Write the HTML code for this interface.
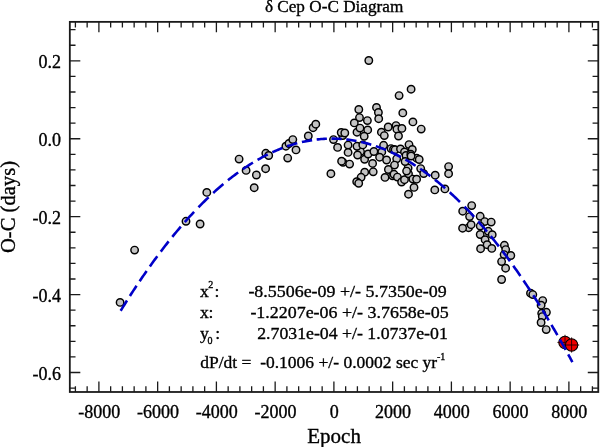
<!DOCTYPE html>
<html><head><meta charset="utf-8"><style>
html,body{margin:0;padding:0;background:#fff;width:600px;height:447px;overflow:hidden}
svg{display:block;will-change:transform}
</style></head><body>
<svg width="600" height="447" viewBox="0 0 600 447"><style>text{stroke:#000;stroke-width:0.35px}</style><g fill="#c4c4c4" stroke="#000" stroke-width="1.45"><circle cx="120.1" cy="302.4" r="3.72"/><circle cx="134.6" cy="250.1" r="3.72"/><circle cx="186.0" cy="221.3" r="3.72"/><circle cx="200.1" cy="224.0" r="3.72"/><circle cx="206.8" cy="192.4" r="3.72"/><circle cx="239.1" cy="159.1" r="3.72"/><circle cx="246.1" cy="170.4" r="3.72"/><circle cx="256.4" cy="175.0" r="3.72"/><circle cx="254.2" cy="187.7" r="3.72"/><circle cx="265.6" cy="168.7" r="3.72"/><circle cx="265.8" cy="153.3" r="3.72"/><circle cx="268.7" cy="155.5" r="3.72"/><circle cx="285.9" cy="146.2" r="3.72"/><circle cx="289.0" cy="143.5" r="3.72"/><circle cx="292.8" cy="139.6" r="3.72"/><circle cx="296.0" cy="149.9" r="3.72"/><circle cx="287.7" cy="158.1" r="3.72"/><circle cx="308.3" cy="136.0" r="3.72"/><circle cx="313.1" cy="127.7" r="3.72"/><circle cx="315.8" cy="124.2" r="3.72"/><circle cx="330.9" cy="173.7" r="3.72"/><circle cx="333.5" cy="139.6" r="3.72"/><circle cx="337.6" cy="147.4" r="3.72"/><circle cx="342.7" cy="135.5" r="3.72"/><circle cx="341.2" cy="132.5" r="3.72"/><circle cx="344.8" cy="133.0" r="3.72"/><circle cx="343.0" cy="162.3" r="3.72"/><circle cx="341.6" cy="161.2" r="3.72"/><circle cx="349.6" cy="164.1" r="3.72"/><circle cx="348.1" cy="145.1" r="3.72"/><circle cx="348.1" cy="152.4" r="3.72"/><circle cx="358.8" cy="109.5" r="3.72"/><circle cx="359.5" cy="117.6" r="3.72"/><circle cx="354.3" cy="122.9" r="3.72"/><circle cx="367.4" cy="120.6" r="3.72"/><circle cx="357.0" cy="132.2" r="3.72"/><circle cx="360.0" cy="128.1" r="3.72"/><circle cx="367.7" cy="129.9" r="3.72"/><circle cx="364.2" cy="136.3" r="3.72"/><circle cx="368.8" cy="60.5" r="3.72"/><circle cx="411.1" cy="89.2" r="3.72"/><circle cx="399.1" cy="95.6" r="3.72"/><circle cx="376.5" cy="107.4" r="3.72"/><circle cx="378.4" cy="112.5" r="3.72"/><circle cx="378.7" cy="118.7" r="3.72"/><circle cx="381.4" cy="132.2" r="3.72"/><circle cx="384.3" cy="135.6" r="3.72"/><circle cx="388.2" cy="127.0" r="3.72"/><circle cx="396.0" cy="125.6" r="3.72"/><circle cx="396.9" cy="129.2" r="3.72"/><circle cx="401.9" cy="128.4" r="3.72"/><circle cx="398.5" cy="136.0" r="3.72"/><circle cx="402.8" cy="112.9" r="3.72"/><circle cx="412.9" cy="121.9" r="3.72"/><circle cx="421.2" cy="129.1" r="3.72"/><circle cx="360.5" cy="151.6" r="3.72"/><circle cx="357.0" cy="146.3" r="3.72"/><circle cx="362.8" cy="144.9" r="3.72"/><circle cx="357.6" cy="155.0" r="3.72"/><circle cx="364.6" cy="159.3" r="3.72"/><circle cx="368.1" cy="154.0" r="3.72"/><circle cx="373.9" cy="151.5" r="3.72"/><circle cx="372.6" cy="163.4" r="3.72"/><circle cx="364.7" cy="172.2" r="3.72"/><circle cx="373.2" cy="171.8" r="3.72"/><circle cx="361.1" cy="177.3" r="3.72"/><circle cx="356.7" cy="181.7" r="3.72"/><circle cx="358.7" cy="183.3" r="3.72"/><circle cx="383.6" cy="145.3" r="3.72"/><circle cx="381.8" cy="151.9" r="3.72"/><circle cx="379.6" cy="157.2" r="3.72"/><circle cx="386.6" cy="160.0" r="3.72"/><circle cx="388.4" cy="169.5" r="3.72"/><circle cx="385.0" cy="177.4" r="3.72"/><circle cx="391.0" cy="148.6" r="3.72"/><circle cx="393.5" cy="149.5" r="3.72"/><circle cx="395.1" cy="149.8" r="3.72"/><circle cx="400.5" cy="148.9" r="3.72"/><circle cx="404.5" cy="151.9" r="3.72"/><circle cx="409.0" cy="144.6" r="3.72"/><circle cx="412.3" cy="149.5" r="3.72"/><circle cx="406.0" cy="155.5" r="3.72"/><circle cx="410.8" cy="154.3" r="3.72"/><circle cx="416.7" cy="158.2" r="3.72"/><circle cx="396.7" cy="158.8" r="3.72"/><circle cx="394.5" cy="165.1" r="3.72"/><circle cx="392.6" cy="175.8" r="3.72"/><circle cx="394.0" cy="174.3" r="3.72"/><circle cx="397.4" cy="177.1" r="3.72"/><circle cx="401.6" cy="182.0" r="3.72"/><circle cx="404.5" cy="179.7" r="3.72"/><circle cx="408.1" cy="168.1" r="3.72"/><circle cx="408.5" cy="173.8" r="3.72"/><circle cx="406.6" cy="171.1" r="3.72"/><circle cx="405.1" cy="161.5" r="3.72"/><circle cx="411.1" cy="156.0" r="3.72"/><circle cx="419.2" cy="159.5" r="3.72"/><circle cx="420.7" cy="168.6" r="3.72"/><circle cx="423.7" cy="173.6" r="3.72"/><circle cx="412.9" cy="179.1" r="3.72"/><circle cx="416.6" cy="179.2" r="3.72"/><circle cx="414.0" cy="187.4" r="3.72"/><circle cx="408.5" cy="194.2" r="3.72"/><circle cx="435.2" cy="175.2" r="3.72"/><circle cx="434.8" cy="189.9" r="3.72"/><circle cx="444.9" cy="188.9" r="3.72"/><circle cx="448.6" cy="166.6" r="3.72"/><circle cx="448.6" cy="173.7" r="3.72"/><circle cx="471.7" cy="205.6" r="3.72"/><circle cx="462.7" cy="211.2" r="3.72"/><circle cx="469.6" cy="216.6" r="3.72"/><circle cx="468.6" cy="227.7" r="3.72"/><circle cx="471.1" cy="224.7" r="3.72"/><circle cx="462.6" cy="228.2" r="3.72"/><circle cx="480.2" cy="216.3" r="3.72"/><circle cx="484.7" cy="221.6" r="3.72"/><circle cx="491.2" cy="222.1" r="3.72"/><circle cx="480.2" cy="226.1" r="3.72"/><circle cx="488.3" cy="231.3" r="3.72"/><circle cx="480.2" cy="234.5" r="3.72"/><circle cx="492.2" cy="234.7" r="3.72"/><circle cx="485.1" cy="239.7" r="3.72"/><circle cx="487.1" cy="244.7" r="3.72"/><circle cx="480.6" cy="248.7" r="3.72"/><circle cx="491.8" cy="248.4" r="3.72"/><circle cx="504.4" cy="245.3" r="3.72"/><circle cx="505.7" cy="249.6" r="3.72"/><circle cx="504.1" cy="254.6" r="3.72"/><circle cx="510.8" cy="255.5" r="3.72"/><circle cx="501.6" cy="261.6" r="3.72"/><circle cx="505.6" cy="268.2" r="3.72"/><circle cx="501.6" cy="279.5" r="3.72"/><circle cx="530.5" cy="293.2" r="3.72"/><circle cx="532.8" cy="294.6" r="3.72"/><circle cx="542.7" cy="300.6" r="3.72"/><circle cx="541.1" cy="305.2" r="3.72"/><circle cx="546.4" cy="312.3" r="3.72"/><circle cx="541.7" cy="313.3" r="3.72"/><circle cx="542.3" cy="316.6" r="3.72"/><circle cx="541.1" cy="322.5" r="3.72"/><circle cx="546.2" cy="329.6" r="3.72"/></g><g><circle cx="565.0" cy="342.4" r="6.2" fill="#f00000" stroke="#000" stroke-width="1.1"/><path d="M557.4,342.4H572.6M565.0,334.8V350.0" stroke="#200" stroke-width="0.9"/><circle cx="571.6" cy="345.0" r="6.2" fill="#f00000" stroke="#000" stroke-width="1.1"/><path d="M564.0,345.0H579.2M571.6,337.4V352.6" stroke="#200" stroke-width="0.9"/></g><path d="M120.64,310.77 121.54,309.31 122.44,307.85 123.34,306.39 124.25,304.94 125.16,303.48 126.08,302.02 127.00,300.57M129.92,295.98 130.85,294.52 131.79,293.07 132.74,291.61 133.69,290.15 134.65,288.69 135.61,287.24 136.57,285.78M139.64,281.20 140.62,279.74 141.61,278.28 142.60,276.82 143.60,275.37 144.61,273.91 145.62,272.45 146.64,271.00M149.87,266.41 150.91,264.95 151.96,263.50 153.01,262.04 154.07,260.58 155.13,259.12 156.21,257.67 157.28,256.21M160.72,251.63 161.83,250.17 162.94,248.71 164.06,247.25 165.19,245.80 166.33,244.34 167.47,242.88 168.62,241.43M172.31,236.84 173.49,235.38 174.69,233.93 175.90,232.47 177.11,231.01 178.34,229.55 179.57,228.10 180.81,226.64M184.80,222.06 186.09,220.60 187.39,219.14 188.70,217.68 190.03,216.23 191.37,214.77 192.72,213.31 194.08,211.86M198.46,207.27 199.88,205.81 201.32,204.36 202.78,202.90 204.23,201.46 205.69,200.03 207.15,198.62 208.60,197.22M213.19,192.94 214.65,191.62 216.10,190.31 217.56,189.01 219.02,187.74 220.47,186.48 221.93,185.23 223.39,184.00M227.97,180.25 229.43,179.09 230.89,177.94 232.35,176.82 233.80,175.71 235.26,174.61 236.72,173.53 238.17,172.47M242.76,169.24 244.22,168.24 245.67,167.27 247.13,166.31 248.59,165.36 250.04,164.43 251.50,163.52 252.96,162.63M257.54,159.92 259.00,159.09 260.46,158.28 261.92,157.48 263.37,156.71 264.83,155.94 266.29,155.20 267.74,154.47M272.33,152.28 273.79,151.62 275.24,150.98 276.70,150.35 278.16,149.74 279.61,149.14 281.07,148.56 282.53,148.00M287.11,146.34 288.57,145.84 290.03,145.37 291.49,144.90 292.94,144.46 294.40,144.03 295.86,143.62 297.31,143.22M301.90,142.08 303.36,141.75 304.81,141.44 306.27,141.14 307.73,140.87 309.18,140.60 310.64,140.36 312.10,140.13M316.68,139.51 318.14,139.35 319.60,139.20 321.06,139.07 322.51,138.96 323.97,138.86 325.43,138.78 326.88,138.72M331.47,138.63 332.93,138.63 334.38,138.65 335.84,138.69 337.30,138.74 338.75,138.81 340.21,138.90 341.67,139.00M346.25,139.43 347.71,139.60 349.17,139.79 350.63,140.00 352.08,140.22 353.54,140.45 355.00,140.70 356.45,140.97M361.04,141.93 362.50,142.26 363.95,142.62 365.41,142.99 366.87,143.37 368.32,143.78 369.78,144.20 371.24,144.63M375.82,146.11 377.28,146.61 378.74,147.13 380.20,147.67 381.65,148.22 383.11,148.79 384.57,149.38 386.02,149.98M390.61,151.98 392.07,152.65 393.52,153.33 394.98,154.04 396.44,154.76 397.89,155.49 399.35,156.24 400.81,157.01M405.39,159.54 406.85,160.37 408.31,161.22 409.77,162.09 411.22,162.98 412.68,163.88 414.14,164.80 415.59,165.73M420.18,168.78 421.64,169.78 423.09,170.80 424.55,171.84 426.01,172.89 427.46,173.96 428.92,175.04 430.38,176.14M434.96,179.71 436.42,180.88 437.88,182.07 439.34,183.27 440.79,184.49 442.25,185.72 443.71,186.97 445.16,188.24M449.75,192.33 451.21,193.67 452.66,195.02 454.12,196.39 455.58,197.77 457.03,199.17 458.49,200.59 459.95,202.02M464.50,206.60 465.91,208.06 467.31,209.52 468.70,210.97 470.07,212.43 471.43,213.89 472.77,215.35 474.10,216.80M478.22,221.39 479.50,222.84 480.77,224.30 482.03,225.76 483.28,227.22 484.53,228.67 485.76,230.13 486.98,231.59M490.76,236.17 491.94,237.63 493.11,239.09 494.28,240.54 495.44,242.00 496.59,243.46 497.73,244.92 498.86,246.37M502.38,250.96 503.48,252.41 504.58,253.87 505.67,255.33 506.75,256.79 507.82,258.24 508.89,259.70 509.96,261.16M513.26,265.74 514.30,267.20 515.33,268.66 516.35,270.11 517.37,271.57 518.39,273.03 519.39,274.49 520.40,275.94M523.52,280.53 524.50,281.98 525.48,283.44 526.45,284.90 527.42,286.36 528.38,287.81 529.34,289.27 530.29,290.73M533.26,295.31 534.20,296.77 535.13,298.23 536.05,299.68 536.97,301.14 537.89,302.60 538.81,304.06 539.71,305.51M542.55,310.10 543.45,311.55 544.33,313.01 545.22,314.47 546.10,315.93 546.98,317.38 547.86,318.84 548.73,320.30M551.45,324.88 552.31,326.34 553.16,327.80 554.01,329.25 554.86,330.71 555.70,332.17 556.55,333.63 557.38,335.08M560.00,339.67 560.83,341.12 561.65,342.58 562.47,344.04 563.29,345.50 564.10,346.95 564.91,348.41 565.72,349.87M568.24,354.45 568.84,355.55 569.44,356.64 570.03,357.73 570.63,358.83 571.22,359.92 571.81,361.01 572.40,362.11" fill="none" stroke="#0000c8" stroke-width="2.6" stroke-linecap="butt" stroke-linejoin="round"/><rect x="69.82" y="21.87" width="528.45" height="370.12" fill="none" stroke="#1a1a1a" stroke-width="1.8"/><path d="M75.40,391.99v-5.7M75.40,21.87v5.7M87.15,391.99v-5.7M87.15,21.87v5.7M98.90,391.99v-10.5M98.90,21.87v10.5M110.65,391.99v-5.7M110.65,21.87v5.7M122.40,391.99v-5.7M122.40,21.87v5.7M134.15,391.99v-5.7M134.15,21.87v5.7M145.90,391.99v-5.7M145.90,21.87v5.7M157.65,391.99v-10.5M157.65,21.87v10.5M169.40,391.99v-5.7M169.40,21.87v5.7M181.15,391.99v-5.7M181.15,21.87v5.7M192.90,391.99v-5.7M192.90,21.87v5.7M204.65,391.99v-5.7M204.65,21.87v5.7M216.40,391.99v-10.5M216.40,21.87v10.5M228.15,391.99v-5.7M228.15,21.87v5.7M239.90,391.99v-5.7M239.90,21.87v5.7M251.65,391.99v-5.7M251.65,21.87v5.7M263.40,391.99v-5.7M263.40,21.87v5.7M275.15,391.99v-10.5M275.15,21.87v10.5M286.90,391.99v-5.7M286.90,21.87v5.7M298.65,391.99v-5.7M298.65,21.87v5.7M310.40,391.99v-5.7M310.40,21.87v5.7M322.15,391.99v-5.7M322.15,21.87v5.7M333.90,391.99v-10.5M333.90,21.87v10.5M345.65,391.99v-5.7M345.65,21.87v5.7M357.40,391.99v-5.7M357.40,21.87v5.7M369.15,391.99v-5.7M369.15,21.87v5.7M380.90,391.99v-5.7M380.90,21.87v5.7M392.65,391.99v-10.5M392.65,21.87v10.5M404.40,391.99v-5.7M404.40,21.87v5.7M416.15,391.99v-5.7M416.15,21.87v5.7M427.90,391.99v-5.7M427.90,21.87v5.7M439.65,391.99v-5.7M439.65,21.87v5.7M451.40,391.99v-10.5M451.40,21.87v10.5M463.15,391.99v-5.7M463.15,21.87v5.7M474.90,391.99v-5.7M474.90,21.87v5.7M486.65,391.99v-5.7M486.65,21.87v5.7M498.40,391.99v-5.7M498.40,21.87v5.7M510.15,391.99v-10.5M510.15,21.87v10.5M521.90,391.99v-5.7M521.90,21.87v5.7M533.65,391.99v-5.7M533.65,21.87v5.7M545.40,391.99v-5.7M545.40,21.87v5.7M557.15,391.99v-5.7M557.15,21.87v5.7M568.90,391.99v-10.5M568.90,21.87v10.5M580.65,391.99v-5.7M580.65,21.87v5.7M592.40,391.99v-5.7M592.40,21.87v5.7M69.82,388.09h5.7M598.27,388.09h-5.7M69.82,372.51h10.5M598.27,372.51h-10.5M69.82,356.93h5.7M598.27,356.93h-5.7M69.82,341.34h5.7M598.27,341.34h-5.7M69.82,325.76h5.7M598.27,325.76h-5.7M69.82,310.17h5.7M598.27,310.17h-5.7M69.82,294.59h10.5M598.27,294.59h-10.5M69.82,279.01h5.7M598.27,279.01h-5.7M69.82,263.42h5.7M598.27,263.42h-5.7M69.82,247.84h5.7M598.27,247.84h-5.7M69.82,232.25h5.7M598.27,232.25h-5.7M69.82,216.67h10.5M598.27,216.67h-10.5M69.82,201.09h5.7M598.27,201.09h-5.7M69.82,185.50h5.7M598.27,185.50h-5.7M69.82,169.92h5.7M598.27,169.92h-5.7M69.82,154.33h5.7M598.27,154.33h-5.7M69.82,138.75h10.5M598.27,138.75h-10.5M69.82,123.17h5.7M598.27,123.17h-5.7M69.82,107.58h5.7M598.27,107.58h-5.7M69.82,92.00h5.7M598.27,92.00h-5.7M69.82,76.41h5.7M598.27,76.41h-5.7M69.82,60.83h10.5M598.27,60.83h-10.5M69.82,45.25h5.7M598.27,45.25h-5.7M69.82,29.66h5.7M598.27,29.66h-5.7" stroke="#1a1a1a" stroke-width="1.3" fill="none"/><g font-family="Liberation Serif" font-size="18" fill="#000" text-anchor="middle"><text x="99.20" y="418">-8000</text><text x="157.95" y="418">-6000</text><text x="216.70" y="418">-4000</text><text x="275.45" y="418">-2000</text><text x="334.20" y="418">0</text><text x="392.95" y="418">2000</text><text x="451.70" y="418">4000</text><text x="510.45" y="418">6000</text><text x="569.20" y="418">8000</text></g><g font-family="Liberation Serif" font-size="18" fill="#000" text-anchor="end"><text x="61" y="379.81">-0.6</text><text x="61" y="301.89">-0.4</text><text x="61" y="223.97">-0.2</text><text x="61" y="146.05">0.0</text><text x="61" y="68.13">0.2</text></g><text x="334.1" y="12.2" font-family="Liberation Serif" font-size="17.2" fill="#000" text-anchor="middle">δ Cep O-C Diagram</text><text x="334.1" y="442.9" font-family="Liberation Serif" font-size="21" fill="#000" text-anchor="middle">Epoch</text><text transform="translate(15.4,207) rotate(-90)" font-family="Liberation Serif" font-size="20.6" fill="#000" text-anchor="middle">O-C (days)</text><g font-family="Liberation Serif" font-size="17.6" fill="#000"><text x="200" y="296.8">x</text><text x="208.2" y="287.8" font-size="10">2</text><text x="214.6" y="296.8">:</text><text x="248.4" y="296.8" textLength="198.3" lengthAdjust="spacingAndGlyphs">-8.5506e-09 +/- 5.7350e-09</text><text x="200" y="317.8">x</text><text x="208.6" y="317.8">:</text><text x="250.4" y="317.8" textLength="198.3" lengthAdjust="spacingAndGlyphs">-1.2207e-06 +/- 3.7658e-05</text><text x="200" y="338.5">y</text><text x="207.6" y="343.7" font-size="10">0</text><text x="215.2" y="338.5">:</text><text x="257.2" y="338.5" textLength="190.6" lengthAdjust="spacingAndGlyphs">2.7031e-04 +/- 1.0737e-01</text><text x="200.2" y="368.3" textLength="237" lengthAdjust="spacingAndGlyphs" xml:space="preserve">dP/dt =  -0.1006 +/- 0.0002 sec yr</text><text x="437" y="359.6" font-size="10">-1</text></g></svg>
</body></html>
